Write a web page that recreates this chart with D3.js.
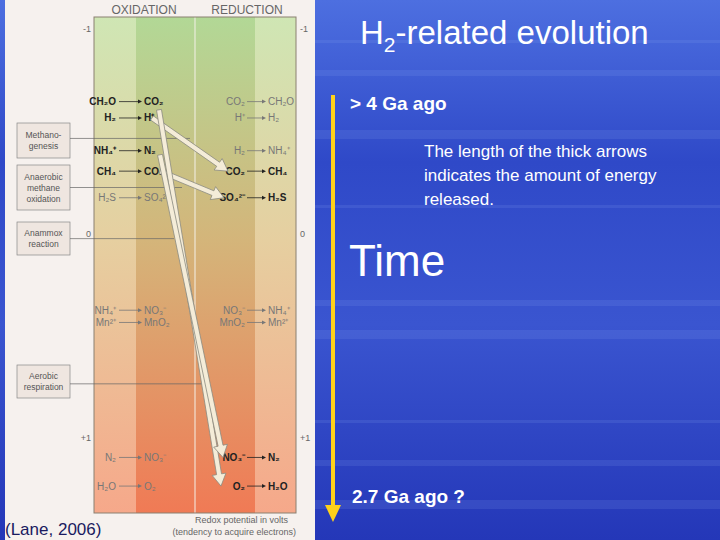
<!DOCTYPE html>
<html>
<head>
<meta charset="UTF-8" />
<script src="https://d3js.org/d3.v7.min.js"></script>
<style>body{margin:0;background:#2a3fc0}</style>
</head>
<body>
<div id="chart"></div>
<script>
// redox potentials (volts) of each half reaction
const oxidation = [
  { from: "CH₂O", to: "CO₂", v: -0.64, bold: true },
  { from: "H₂", to: "H⁺", v: -0.56, bold: true },
  { from: "NH₄⁺", to: "N₂", v: -0.40, bold: true },
  { from: "CH₄", to: "CO₂", v: -0.30, bold: true },
  { from: "H₂S", to: "SO₄²⁻", v: -0.17, bold: false },
  { from: "NH₄⁺", to: "NO₃⁻", v: 0.38, bold: false },
  { from: "Mn²⁺", to: "MnO₂", v: 0.44, bold: false },
  { from: "N₂", to: "NO₃⁻", v: 1.10, bold: false },
  { from: "H₂O", to: "O₂", v: 1.24, bold: false }
];
const reduction = [
  { from: "CO₂", to: "CH₂O", v: -0.64, bold: false },
  { from: "H⁺", to: "H₂", v: -0.56, bold: false },
  { from: "H₂", to: "NH₄⁺", v: -0.40, bold: false },
  { from: "CO₂", to: "CH₄", v: -0.30, bold: true },
  { from: "SO₄²⁻", to: "H₂S", v: -0.17, bold: true },
  { from: "NO₃⁻", to: "NH₄⁺", v: 0.38, bold: false },
  { from: "MnO₂", to: "Mn²⁺", v: 0.44, bold: false },
  { from: "NO₃⁻", to: "N₂", v: 1.10, bold: true },
  { from: "O₂", to: "H₂O", v: 1.24, bold: true }
];
// energy arrows: donor potential -> acceptor potential
const energyArrows = [
  { v0: -0.56, v1: -0.30, x0: 152, x1: 228 },
  { v0: -0.30, v1: -0.17, x0: 160, x1: 224 },
  { v0: -0.60, v1: 1.24, x0: 159, x1: 221 },
  { v0: -0.38, v1: 1.10, x0: 160, x1: 223 }
];
const processes = [
  { lines: ["Methano-", "genesis"], v: -0.46, y0: 123, y1: 158, lx: 190 },
  { lines: ["Anaerobic", "methane", "oxidation"], v: -0.22, y0: 165, y1: 210, lx: 182 },
  { lines: ["Anammox", "reaction"], v: 0.03, y0: 222, y1: 255, lx: 174 },
  { lines: ["Aerobic", "respiration"], v: 0.74, y0: 365, y1: 398, lx: 205 }
];
const ticks = [-1, 0, 1];

const W = 720, H = 540;
const svg = d3.select("#chart").append("svg").attr("width", W).attr("height", H);
const defs = svg.append("defs");

const bg = defs.append("linearGradient").attr("id", "bg").attr("x1", 0).attr("x2", 0).attr("y1", 0).attr("y2", 1);
[["0%", "#4d6fe0"], ["30%", "#2f49c8"], ["60%", "#3a55d0"], ["100%", "#2437b8"]].forEach(s => bg.append("stop").attr("offset", s[0]).attr("stop-color", s[1]));
svg.append("rect").attr("width", W).attr("height", H).attr("fill", "url(#bg)");
// streaks
[40, 70, 130, 205, 300, 330, 420, 460, 500].forEach((y, i) =>
  svg.append("rect").attr("x", 300).attr("y", y).attr("width", 420).attr("height", 3 + (i % 3) * 3)
    .attr("fill", "#8fa8f0").attr("opacity", 0.15));

// left panel
svg.append("rect").attr("x", 5).attr("y", 0).attr("width", 310).attr("height", H).attr("fill", "#f6f1ee");

const y = d3.scaleLinear().domain([-1, 1]).range([28, 437]);
const bx0 = 94, bx1 = 296, by0 = 17, by1 = 513;

const grad = (id, top, mid, bot) => {
  const g = defs.append("linearGradient").attr("id", id).attr("x1", 0).attr("x2", 0).attr("y1", 0).attr("y2", 1);
  g.append("stop").attr("offset", "0%").attr("stop-color", top);
  g.append("stop").attr("offset", "45%").attr("stop-color", mid);
  g.append("stop").attr("offset", "100%").attr("stop-color", bot);
};
grad("light", "#cfe6b4", "#e6cfa0", "#f6a88a");
grad("dark", "#b2d896", "#d4b57a", "#f07a55");
const cols = [[bx0, 136, "light"], [136, 195, "dark"], [195, 255, "dark"], [255, bx1, "light"]];
cols.forEach(c => svg.append("rect").attr("x", c[0]).attr("y", by0).attr("width", c[1] - c[0])
  .attr("height", by1 - by0).attr("fill", `url(#${c[2]})`));
svg.append("line").attr("x1", 195).attr("x2", 195).attr("y1", by0).attr("y2", by1).attr("stroke", "#f4f0e8").attr("stroke-width", 1);
svg.append("rect").attr("x", bx0).attr("y", by0).attr("width", bx1 - bx0).attr("height", by1 - by0)
  .attr("fill", "none").attr("stroke", "#8a8070");

const f = "Liberation Sans, Arial, sans-serif";
svg.append("text").attr("x", 144).attr("y", 14).attr("text-anchor", "middle").attr("font-family", f).attr("font-size", 12).attr("fill", "#666").text("OXIDATION");
svg.append("text").attr("x", 247).attr("y", 14).attr("text-anchor", "middle").attr("font-family", f).attr("font-size", 12).attr("fill", "#666").text("REDUCTION");

ticks.forEach(t => {
  const lab = t > 0 ? "+1" : String(t);
  svg.append("text").attr("x", 91).attr("y", y(t) + 4).attr("text-anchor", "end").attr("font-family", f).attr("font-size", 9).attr("fill", "#666").text(lab);
  svg.append("text").attr("x", 300).attr("y", y(t) + 4).attr("font-family", f).attr("font-size", 9).attr("fill", "#666").text(lab);
});

function reactions(data, xFrom, xArr0, xArr1, xTo) {
  data.forEach(d => {
    const yy = y(d.v);
    const col = d.bold ? "#222" : "#777";
    const w = d.bold ? "bold" : "normal";
    svg.append("text").attr("x", xFrom).attr("y", yy + 3.5).attr("text-anchor", "end").attr("font-family", f)
      .attr("font-size", 10).attr("font-weight", w).attr("fill", col).text(d.from);
    svg.append("line").attr("x1", xArr0).attr("x2", xArr1 - 3).attr("y1", yy).attr("y2", yy).attr("stroke", col).attr("stroke-width", 0.8);
    svg.append("path").attr("d", `M${xArr1},${yy}l-4,-2v4z`).attr("fill", col);
    svg.append("text").attr("x", xTo).attr("y", yy + 3.5).attr("font-family", f)
      .attr("font-size", 10).attr("font-weight", w).attr("fill", col).text(d.to);
  });
}
reactions(oxidation, 116, 119, 142, 144);
reactions(reduction, 245, 247, 266, 268);

// process boxes and leader lines
processes.forEach(p => {
  svg.append("rect").attr("x", 17).attr("y", p.y0).attr("width", 53).attr("height", p.y1 - p.y0)
    .attr("fill", "#efe6e0").attr("stroke", "#888").attr("stroke-width", 0.7);
  const n = p.lines.length, mid = (p.y0 + p.y1) / 2;
  p.lines.forEach((l, i) => svg.append("text").attr("x", 43.5).attr("y", mid + (i - (n - 1) / 2) * 11 + 3)
    .attr("text-anchor", "middle").attr("font-family", f).attr("font-size", 8.5).attr("fill", "#555").text(l));
  const ly = y(p.v);
  svg.append("line").attr("x1", 70).attr("x2", p.lx).attr("y1", ly).attr("y2", ly).attr("stroke", "#666").attr("stroke-width", 0.7);
});

// thick hollow arrows
energyArrows.forEach(a => {
  const x0 = a.x0, y0 = y(a.v0), x1 = a.x1, y1 = y(a.v1);
  const dx = x1 - x0, dy = y1 - y0, L = Math.hypot(dx, dy);
  const ux = dx / L, uy = dy / L, nx = -uy, ny = ux;
  const hw = 2.5, hh = 7, hl = 12;
  const bxp = x1 - ux * hl, byp = y1 - uy * hl;
  const pts = [
    [x0 + nx * hw, y0 + ny * hw], [bxp + nx * hw, byp + ny * hw], [bxp + nx * hh, byp + ny * hh],
    [x1, y1], [bxp - nx * hh, byp - ny * hh], [bxp - nx * hw, byp - ny * hw], [x0 - nx * hw, y0 - ny * hw]
  ];
  svg.append("path").attr("d", d3.line()(pts) + "Z").attr("fill", "#f4ecd8").attr("stroke", "#8a8a80").attr("stroke-width", 0.8);
});

svg.append("text").attr("x", 288).attr("y", 523).attr("text-anchor", "end").attr("font-family", f).attr("font-size", 9).attr("fill", "#666").text("Redox potential in volts");
svg.append("text").attr("x", 296).attr("y", 535).attr("text-anchor", "end").attr("font-family", f).attr("font-size", 9).attr("fill", "#666").text("(tendency to acquire electrons)");
svg.append("text").attr("x", 5).attr("y", 535).attr("font-family", f).attr("font-size", 17).attr("fill", "#1a1a60").text("(Lane, 2006)");

// right side text
const t1 = svg.append("text").attr("x", 360).attr("y", 44).attr("font-family", f).attr("font-size", 33).attr("fill", "#fff");
t1.append("tspan").text("H");
t1.append("tspan").attr("font-size", 21).attr("dy", 8).text("2");
t1.append("tspan").attr("dy", -8).text("-related evolution");

svg.append("line").attr("x1", 333).attr("x2", 333).attr("y1", 95).attr("y2", 508).attr("stroke", "#ffd21a").attr("stroke-width", 4);
svg.append("path").attr("d", "M325,505L341,505L333,522Z").attr("fill", "#ffd21a");

svg.append("text").attr("x", 350).attr("y", 110).attr("font-family", f).attr("font-size", 19).attr("font-weight", "bold").attr("fill", "#fff").text("> 4 Ga ago");
["The length of the thick arrows", "indicates the amount of energy", "released."].forEach((l, i) =>
  svg.append("text").attr("x", 424).attr("y", 157 + i * 24).attr("font-family", f).attr("font-size", 17).attr("fill", "#fff").text(l));
svg.append("text").attr("x", 349).attr("y", 276).attr("font-family", f).attr("font-size", 44).attr("fill", "#fff").text("Time");
svg.append("text").attr("x", 352).attr("y", 503).attr("font-family", f).attr("font-size", 19).attr("font-weight", "bold").attr("fill", "#fff").text("2.7 Ga ago  ?");
</script>
</body>
</html>
